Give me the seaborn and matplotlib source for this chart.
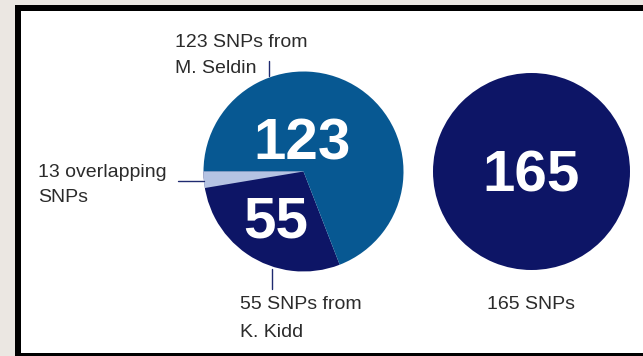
import matplotlib
matplotlib.use("Agg")
import matplotlib.pyplot as plt
from matplotlib.patches import Rectangle, Wedge
import seaborn as sns

# SNP panel composition
source_names = ["K. Kidd", "M. Seldin"]
source_counts = [55, 123]
overlap_count = 13
combined_count = 165

label_seldin = ["123 SNPs from", "M. Seldin"]
label_overlap = ["13 overlapping", "SNPs"]
label_kidd = ["55 SNPs from", "K. Kidd"]
label_combined = ["165 SNPs"]

# styling
W, H = 643, 356
BLUE = "#075892"
NAVY = "#0d1566"
LIGHT = "#b5c3e3"
LEADER = "#1f2a70"
TEXT = "#2b2b2b"
PAPER = "#ebe7e2"
OVERLAP_SWEEP = 9.5  # degrees taken by the overlap sliver

sns.set_theme(style="white")
plt.rcParams["font.family"] = ["Liberation Sans", "DejaVu Sans"]

fig = plt.figure(figsize=(W / 100, H / 100), dpi=100)
fig.patch.set_facecolor(PAPER)
ax = fig.add_axes([0, 0, 1, 1])


def fy(y):
    """Convert a top-down pixel row to the axes' bottom-up coordinate."""
    return H - y


# framed white panel
ax.add_patch(Rectangle((15, fy(H + 10)), W, H + 10 - 5, facecolor="black", edgecolor="none", zorder=0))
ax.add_patch(Rectangle((21, fy(353)), W, 353 - 11, facecolor="white", edgecolor="none", zorder=0.5))

# left pie: SNPs by source
c1 = (303.5, fy(171.5))
r1 = 100
ax.pie(source_counts, colors=[NAVY, BLUE], startangle=180, counterclock=True,
       center=c1, radius=r1, wedgeprops=dict(linewidth=0, antialiased=True))
ax.add_patch(Wedge(c1, r1, 180, 180 + OVERLAP_SWEEP, facecolor=LIGHT, edgecolor="none", zorder=3))

# right pie: combined panel
c2 = (531.5, fy(171.5))
r2 = 98.5
ax.pie([combined_count], colors=[NAVY], center=c2, radius=r2,
       wedgeprops=dict(linewidth=0, antialiased=True))

# numbers inside the pies
big = dict(color="white", fontsize=42, fontweight="bold", ha="center", va="baseline", zorder=5)
ax.text(302.5, fy(160), f"{source_counts[1]}", **big)
ax.text(276, fy(238), f"{source_counts[0]}", **big)
ax.text(531, fy(192), f"{combined_count}", **big)


def write(lines, x, baselines, ha="left"):
    for line, yb in zip(lines, baselines):
        ax.text(x, fy(yb), line, color=TEXT, fontsize=14, ha=ha, va="baseline", zorder=5)


write(label_seldin, 175, [47, 73])
write(label_overlap, 38, [177, 202.5])
write(label_kidd, 240, [309, 337])
write(label_combined, 531, [309], ha="center")

# leader lines
lw = 1.0
ax.plot([269, 269], [fy(61), fy(76)], color=LEADER, lw=lw, zorder=4)
ax.plot([178, 204], [fy(180.5), fy(180.5)], color=LEADER, lw=lw, zorder=4)
ax.plot([271.5, 271.5], [fy(269), fy(289)], color=LEADER, lw=lw, zorder=4)

ax.set_xlim(0, W)
ax.set_ylim(0, H)
ax.set_aspect("equal")
ax.axis("off")

fig.savefig("out.png", dpi=100, facecolor=PAPER)
